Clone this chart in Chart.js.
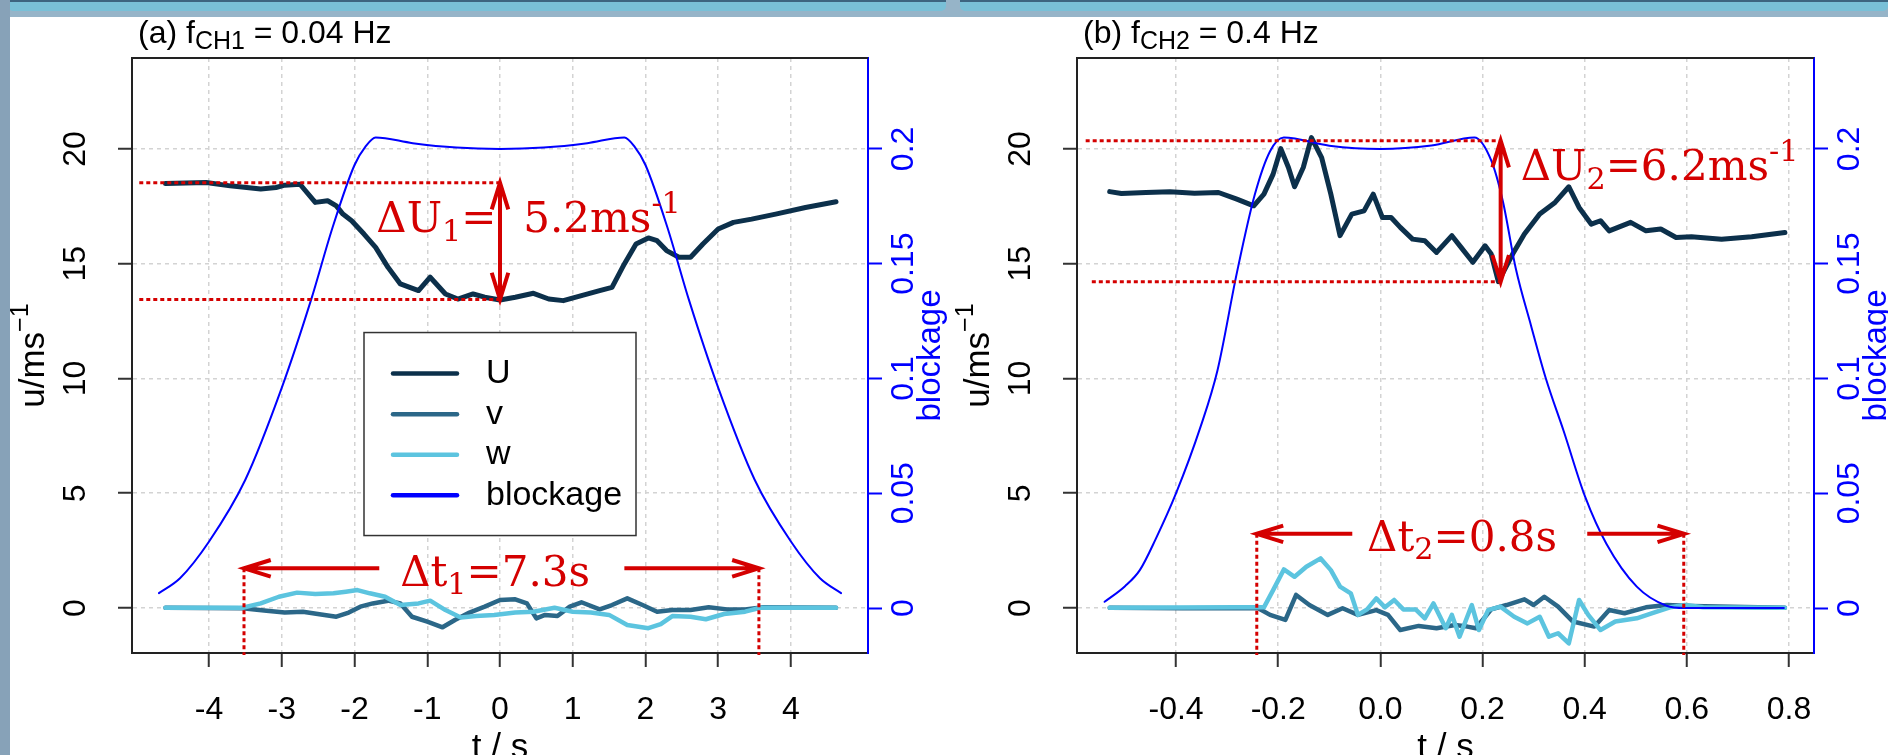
<!DOCTYPE html>
<html>
<head>
<meta charset="utf-8">
<title>blockage</title>
<script src="https://cdn.jsdelivr.net/npm/chart.js@4.4.1/dist/chart.umd.min.js"></script>
<style>
  html, body { margin: 0; width: 1888px; height: 755px; overflow: hidden; background: #fff; }
  #bar { position: absolute; left: 0; top: 0; width: 1888px; height: 17px; background: #96b4c8; }
  #bar div { position: absolute; top: 0; height: 9px; background: #79c0d7; border-top: 2px solid #3d6580; border-radius: 0 0 5px 5px; }
  #side { position: absolute; left: 0; top: 0; width: 10px; height: 755px; background: #87a2b8; }
  canvas { position: absolute; top: 0; }
</style>
</head>
<body>
<div id="bar"><div style="left: 8px; width: 938px"></div><div style="left: 960px; width: 928px"></div></div>
<div id="side"></div>
<canvas id="panelA" width="948" height="790" style="left: 0"></canvas>
<canvas id="panelB" width="940" height="790" style="left: 948px"></canvas>
<script>
const SANS = "'Liberation Sans', Arial, sans-serif"
const SERIF = "'DejaVu Serif', serif"
const RED = "#d40000"
const COLORS = { U: "#0c304b", v: "#2b6788", w: "#5cc4df", blockage: "#0000ff" }

// tick labels
const aTicks = [-4, -3, -2, -1, 0, 1, 2, 3, 4]
const bTicks = [-0.4, -0.2, 0, 0.2, 0.4, 0.6, 0.8]
const uTicks = [0, 5, 10, 15, 20]
const blockTicks = [0, 0.05, 0.1, 0.15, 0.2]

// (a) f_CH1 = 0.04 Hz
const aBlockT = [-4.69, -4.4, -4.0, -3.5, -3.0, -2.6, -2.3, -2.0, -1.85, -1.71, -1.2, -0.6, 0, 0.6, 1.2, 1.71, 1.85, 2.0, 2.3, 2.6, 3.0, 3.5, 4.0, 4.4, 4.69]
const aBlock = [0.0065, 0.013, 0.029, 0.056, 0.096, 0.134, 0.166, 0.193, 0.201, 0.205, 0.2025, 0.2006, 0.2, 0.2006, 0.2025, 0.205, 0.201, 0.193, 0.166, 0.134, 0.096, 0.056, 0.029, 0.013, 0.0065]
const aUT = [-4.60, -4.04, -3.71, -3.29, -3.08, -2.96, -2.75, -2.54, -2.37, -2.25, -2.16, -2.04, -1.87, -1.71, -1.54, -1.37, -1.12, -0.96, -0.75, -0.58, -0.37, -0.21, 0, 0.21, 0.46, 0.67, 0.87, 1.12, 1.37, 1.54, 1.71, 1.87, 2.04, 2.16, 2.29, 2.46, 2.62, 2.79, 3.0, 3.21, 3.46, 3.79, 4.20, 4.62]
const aU = [18.49, 18.54, 18.39, 18.25, 18.32, 18.42, 18.46, 17.67, 17.74, 17.52, 17.16, 16.87, 16.29, 15.71, 14.84, 14.12, 13.83, 14.41, 13.68, 13.46, 13.68, 13.54, 13.42, 13.54, 13.71, 13.46, 13.39, 13.61, 13.83, 13.97, 14.99, 15.86, 16.12, 16.0, 15.57, 15.28, 15.28, 15.86, 16.51, 16.80, 16.94, 17.16, 17.45, 17.70]
const aVT = [-4.60, -3.54, -3.21, -2.96, -2.71, -2.46, -2.25, -2.08, -1.92, -1.75, -1.54, -1.37, -1.21, -1.0, -0.79, -0.62, -0.42, -0.21, 0, 0.21, 0.37, 0.50, 0.62, 0.79, 0.96, 1.12, 1.37, 1.54, 1.75, 1.96, 2.16, 2.37, 2.62, 2.87, 3.12, 3.37, 3.62, 4.62]
const aV = [0.01, -0.01, -0.12, -0.2, -0.16, -0.28, -0.38, -0.2, 0.06, 0.2, 0.32, 0.2, -0.38, -0.59, -0.84, -0.52, -0.2, 0.06, 0.35, 0.38, 0.2, -0.45, -0.3, -0.35, 0.06, 0.25, -0.06, 0.13, 0.42, 0.13, -0.16, -0.09, -0.09, 0.03, -0.06, -0.06, 0.03, 0.01]
const aWT = [-4.60, -3.54, -3.29, -3.04, -2.79, -2.54, -2.29, -2.12, -1.96, -1.79, -1.58, -1.37, -1.12, -0.96, -0.75, -0.54, -0.33, -0.08, 0.21, 0.46, 0.75, 1.0, 1.25, 1.50, 1.75, 2.04, 2.21, 2.37, 2.62, 2.83, 3.08, 3.37, 3.58, 4.62]
const aW = [0.01, 0.01, 0.2, 0.49, 0.67, 0.61, 0.64, 0.71, 0.78, 0.64, 0.49, 0.13, 0.2, 0.32, -0.09, -0.41, -0.35, -0.3, -0.2, -0.16, 0.01, -0.16, -0.2, -0.3, -0.74, -0.88, -0.70, -0.35, -0.38, -0.49, -0.26, -0.16, 0.01, 0.01]

// (b) f_CH2 = 0.4 Hz
const bBlockT = [-0.54, -0.50, -0.471, -0.44, -0.40, -0.352, -0.319, -0.281, -0.246, -0.216, -0.189, -0.1, 0, 0.1, 0.184, 0.217, 0.24, 0.265, 0.295, 0.324, 0.359, 0.401, 0.4425, 0.502, 0.56, 0.596, 0.65, 0.72, 0.79]
const bBlock = [0.0027, 0.0095, 0.0165, 0.030, 0.050, 0.079, 0.1035, 0.146, 0.180, 0.199, 0.205, 0.2014, 0.2, 0.2015, 0.205, 0.195, 0.177, 0.148, 0.123, 0.10, 0.077, 0.0484, 0.028, 0.0093, 0.001, 0, 0, 0, 0]
const bUT = [-0.530, -0.507, -0.459, -0.412, -0.364, -0.317, -0.281, -0.248, -0.228, -0.210, -0.195, -0.180, -0.168, -0.151, -0.135, -0.115, -0.097, -0.079, -0.056, -0.032, -0.014, 0.004, 0.021, 0.039, 0.063, 0.087, 0.110, 0.140, 0.158, 0.181, 0.205, 0.217, 0.231, 0.259, 0.282, 0.312, 0.342, 0.369, 0.389, 0.413, 0.431, 0.448, 0.490, 0.520, 0.549, 0.579, 0.609, 0.668, 0.727, 0.792]
const bU = [18.14, 18.06, 18.10, 18.13, 18.07, 18.10, 17.81, 17.52, 18.03, 18.90, 20.01, 19.19, 18.35, 19.19, 20.49, 19.62, 18.03, 16.22, 17.16, 17.30, 18.03, 17.01, 17.01, 16.58, 16.07, 16.0, 15.49, 16.22, 15.71, 15.06, 15.78, 15.42, 14.22, 15.42, 16.29, 17.16, 17.67, 18.35, 17.45, 16.72, 16.87, 16.43, 16.80, 16.43, 16.51, 16.14, 16.17, 16.06, 16.17, 16.36]
const bVT = [-0.530, -0.388, -0.240, -0.216, -0.186, -0.165, -0.139, -0.103, -0.074, -0.044, -0.008, 0.015, 0.039, 0.075, 0.110, 0.146, 0.170, 0.187, 0.217, 0.247, 0.282, 0.300, 0.321, 0.348, 0.377, 0.419, 0.448, 0.478, 0.520, 0.561, 0.609, 0.792]
const bV = [0.01, -0.01, 0, -0.3, -0.52, 0.57, 0.13, -0.3, -0.01, -0.3, -0.09, -0.3, -0.96, -0.78, -0.88, -0.74, -0.81, -0.88, -0.06, 0.13, 0.38, 0.13, 0.49, 0.06, -0.59, -0.81, -0.09, -0.23, 0.03, 0.13, 0.09, 0.01]
const bWT = [-0.530, -0.281, -0.228, -0.210, -0.189, -0.168, -0.145, -0.117, -0.097, -0.079, -0.058, -0.044, -0.026, -0.008, 0.009, 0.027, 0.045, 0.069, 0.087, 0.104, 0.128, 0.140, 0.155, 0.179, 0.193, 0.211, 0.235, 0.262, 0.288, 0.312, 0.330, 0.348, 0.369, 0.389, 0.407, 0.431, 0.460, 0.502, 0.531, 0.567, 0.597, 0.632, 0.792]
const bW = [0.01, 0.03, 0.03, 0.78, 1.68, 1.36, 1.80, 2.16, 1.65, 0.93, 0.64, -0.3, -0.06, 0.42, 0.03, 0.35, -0.06, -0.06, -0.45, 0.2, -0.88, -0.3, -1.25, 0.13, -0.96, -0.09, 0.06, -0.38, -0.67, -0.38, -1.25, -1.10, -1.54, 0.35, -0.3, -0.96, -0.59, -0.45, -0.23, 0.03, 0.13, 0.03, 0.01]

// red marks, in data units: dotted [x0, x1, y], drop lines [x, y], arrows [from, to, y]
const annoA = {
  hDots: [[-4.96, 0, 18.53], [-4.96, 0, 13.44]],
  vDots: [[-3.52, 1.73], [3.56, 1.73]],
  vArrows: [[0, 18.53, 13.44]],
  hArrows: [[-1.66, -3.52, 1.73], [1.71, 3.56, 1.73]],
  labels: [
    { x: -1.70, y: 16.37, parts: [["ΔU"], ["1", "sub"], ["=  5.2ms"], ["-1", "sup"]] },
    { x: -1.373, y: 0.97, parts: [["Δt"], ["1", "sub"], ["=7.3s"]] }
  ]
}
const annoB = {
  hDots: [[-0.577, 0.232, 20.36], [-0.565, 0.232, 14.21]],
  vDots: [[-0.242, 3.23], [0.594, 3.23]],
  vArrows: [[0.2355, 20.36, 14.21]],
  hArrows: [[-0.055, -0.2426, 3.23], [0.405, 0.595, 3.23]],
  labels: [
    { x: 0.2747, y: 18.64, parts: [["ΔU"], ["2", "sub"], ["=6.2ms"], ["-1", "sup"]] },
    { x: -0.026, y: 2.5, parts: [["Δt"], ["2", "sub"], ["=0.8s"]] }
  ]
}

function series(label, xs, ys, width, axis, order, smooth) {
  return {
    label: label,
    data: xs.map((x, i) => ({ x: x, y: ys[i] })),
    yAxisID: axis,
    borderColor: COLORS[label],
    backgroundColor: COLORS[label],
    borderWidth: width,
    pointRadius: 0,
    order: order,
    tension: 0,
    cubicInterpolationMode: smooth ? "monotone" : "default",
    borderJoinStyle: "round",
    borderCapStyle: "round"
  }
}

function rich(ctx, parts, x, y, size, family, align, subScale) {
  const k = subScale || 0.72
  const runs = parts.map(([text, kind]) => {
    const s = kind ? size * k : size
    ctx.font = s + "px " + family
    return { text: text, kind: kind, s: s, w: ctx.measureText(text).width }
  })
  let cx = align === "center" ? x - runs.reduce((t, r) => t + r.w, 0) / 2 : x
  ctx.textAlign = "left"
  ctx.textBaseline = "alphabetic"
  runs.forEach(r => {
    const dy = r.kind === "sub" ? size * 0.2 : r.kind === "sup" ? -size * 0.45 : 0
    ctx.font = r.s + "px " + family
    ctx.fillText(r.text, cx, y + dy)
    cx += r.w
  })
}

function seg(ctx, x0, y0, x1, y1) {
  ctx.beginPath()
  ctx.moveTo(x0, y0)
  ctx.lineTo(x1, y1)
  ctx.stroke()
}

function arrow(ctx, x0, y0, x1, y1, both) {
  const a = Math.atan2(y1 - y0, x1 - x0)
  const len = 28
  const spread = 0.3
  const tips = both ? [[x1, y1, a], [x0, y0, a + Math.PI]] : [[x1, y1, a]]
  ctx.beginPath()
  ctx.moveTo(x0, y0)
  ctx.lineTo(x1, y1)
  tips.forEach(([tx, ty, t]) => {
    ctx.moveTo(tx - len * Math.cos(t - spread), ty - len * Math.sin(t - spread))
    ctx.lineTo(tx, ty)
    ctx.lineTo(tx - len * Math.cos(t + spread), ty - len * Math.sin(t + spread))
  })
  ctx.stroke()
}

function panelPlugin(p) {
  return {
    id: "panel",
    afterDatasetsDraw(chart) {
      const { ctx, chartArea: ca, scales } = chart
      const X = v => scales.x.getPixelForValue(v)
      const Y = v => scales.y.getPixelForValue(v)
      const a = p.anno
      ctx.save()

      // top edge of the box
      ctx.strokeStyle = "#222"
      ctx.lineWidth = 2
      seg(ctx, ca.left - 1, ca.top, ca.right, ca.top)

      // dotted guides
      ctx.strokeStyle = RED
      ctx.lineWidth = 3
      ctx.setLineDash([4, 3])
      a.hDots.forEach(([x0, x1, y]) => seg(ctx, X(x0), Y(y), X(x1), Y(y)))
      a.vDots.forEach(([x, y]) => seg(ctx, X(x), Y(y), X(x), ca.bottom + 2))
      ctx.setLineDash([])

      // arrows
      ctx.lineWidth = 4
      ctx.lineJoin = "miter"
      a.vArrows.forEach(([x, y0, y1]) => arrow(ctx, X(x), Y(y0), X(x), Y(y1), true))
      a.hArrows.forEach(([x0, x1, y]) => arrow(ctx, X(x0), Y(y), X(x1), Y(y), false))

      ctx.fillStyle = RED
      a.labels.forEach(l => rich(ctx, l.parts, X(l.x), Y(l.y), 42, SERIF, "left"))

      // legend box
      if (p.legend) {
        const lx = X(p.legend.x)
        const ly = Y(p.legend.y)
        ctx.fillStyle = "#fff"
        ctx.fillRect(lx, ly, 272, 203)
        ctx.strokeStyle = "#333"
        ctx.lineWidth = 1.5
        ctx.strokeRect(lx, ly, 272, 203)
        chart.data.datasets.forEach((d, i) => {
          const yy = ly + 41 + i * 40.6
          ctx.strokeStyle = d.borderColor
          ctx.lineWidth = 4.5
          ctx.lineCap = "round"
          seg(ctx, lx + 29, yy, lx + 93, yy)
          ctx.fillStyle = "#000"
          ctx.font = "34px " + SANS
          ctx.textBaseline = "middle"
          ctx.fillText(d.label, lx + 122, yy)
        })
      }

      // panel title
      ctx.fillStyle = "#000"
      rich(ctx, p.title, ca.left + 6, 43, 32, SANS, "left", 0.78)

      // axis titles, reading upwards on both sides
      const mid = (ca.top + ca.bottom) / 2
      ctx.translate(ca.left - 88, mid)
      ctx.rotate(-Math.PI / 2)
      rich(ctx, [["u/ms"], ["\u22121", "sup"]], 0, 0, 35, SANS, "center")
      ctx.setTransform(1, 0, 0, 1, 0, 0)
      ctx.translate(ca.right + 72, mid)
      ctx.rotate(-Math.PI / 2)
      ctx.fillStyle = COLORS.blockage
      rich(ctx, [["blockage"]], 0, 0, 33, SANS, "center")
      ctx.restore()
    }
  }
}

function makePanel(id, p) {
  const tickFont = { family: SANS, size: 32 }
  const grid = { color: "#d3d3d3", lineWidth: 1.5, tickLength: 14, tickColor: "#333", tickWidth: 2 }
  const frame = { display: true, color: "#222", width: 2, dash: [4, 4] }
  return new Chart(document.getElementById(id), {
    type: "line",
    data: {
      datasets: [
        series("U", p.uT, p.u, 5, "y", 3, false),
        series("v", p.vT, p.v, 4.5, "y", 2, false),
        series("w", p.wT, p.w, 4.5, "y", 1, false),
        series("blockage", p.blockT, p.block, 2, "y2", 0, true)
      ]
    },
    options: {
      responsive: false,
      animation: false,
      layout: { padding: { top: 58, left: 0, right: 0, bottom: 0 } },
      plugins: { legend: { display: false }, tooltip: { enabled: false } },
      scales: {
        x: {
          type: "linear",
          min: p.xMin,
          max: p.xMax,
          afterBuildTicks: s => { s.ticks = p.xTicks.map(v => ({ value: v })) },
          afterFit: s => { s.height = p.ch - 653 },
          ticks: { autoSkip: false, minRotation: 0, maxRotation: 0, padding: 24, color: "#000", font: tickFont, callback: p.xFmt },
          grid: grid,
          border: frame,
          title: { display: true, text: "t / s", color: "#000", font: { family: SANS, size: 35 }, padding: { top: 0, bottom: 21 } }
        },
        y: {
          type: "linear",
          position: "left",
          min: -1.96,
          max: 23.96,
          afterBuildTicks: s => { s.ticks = uTicks.map(v => ({ value: v })) },
          afterFit: s => { s.width = p.left },
          ticks: { autoSkip: false, minRotation: 90, maxRotation: 90, crossAlign: "center", padding: 23.6, color: "#000", font: tickFont },
          grid: grid,
          border: frame
        },
        y2: {
          type: "linear",
          position: "right",
          min: -0.0196,
          max: 0.2396,
          afterBuildTicks: s => { s.ticks = blockTicks.map(v => ({ value: v })) },
          afterFit: s => { s.width = p.cw - p.right },
          ticks: { autoSkip: false, minRotation: 90, maxRotation: 90, crossAlign: "center", padding: -9, color: COLORS.blockage, font: tickFont, callback: v => String(v) },
          grid: { drawOnChartArea: false, color: COLORS.blockage, tickLength: 14, tickColor: COLORS.blockage, tickWidth: 2 },
          border: { display: true, color: COLORS.blockage, width: 2 }
        }
      }
    },
    plugins: [panelPlugin(p)]
  })
}

makePanel("panelA", {
  cw: 948, ch: 790, left: 132, right: 868,
  xMin: -5.06, xMax: 5.06, xTicks: aTicks, xFmt: v => String(v),
  uT: aUT, u: aU, vT: aVT, v: aV, wT: aWT, w: aW, blockT: aBlockT, block: aBlock,
  anno: annoA,
  legend: { x: -1.87, y: 12.0 },
  title: [["(a) f"], ["CH1", "sub"], [" = 0.04 Hz"]]
})

makePanel("panelB", {
  cw: 940, ch: 790, left: 129, right: 866,
  xMin: -0.594, xMax: 0.849, xTicks: bTicks, xFmt: v => v.toFixed(1),
  uT: bUT, u: bU, vT: bVT, v: bV, wT: bWT, w: bW, blockT: bBlockT, block: bBlock,
  anno: annoB,
  legend: null,
  title: [["(b) f"], ["CH2", "sub"], [" = 0.4 Hz"]]
})
</script>
</body>
</html>
